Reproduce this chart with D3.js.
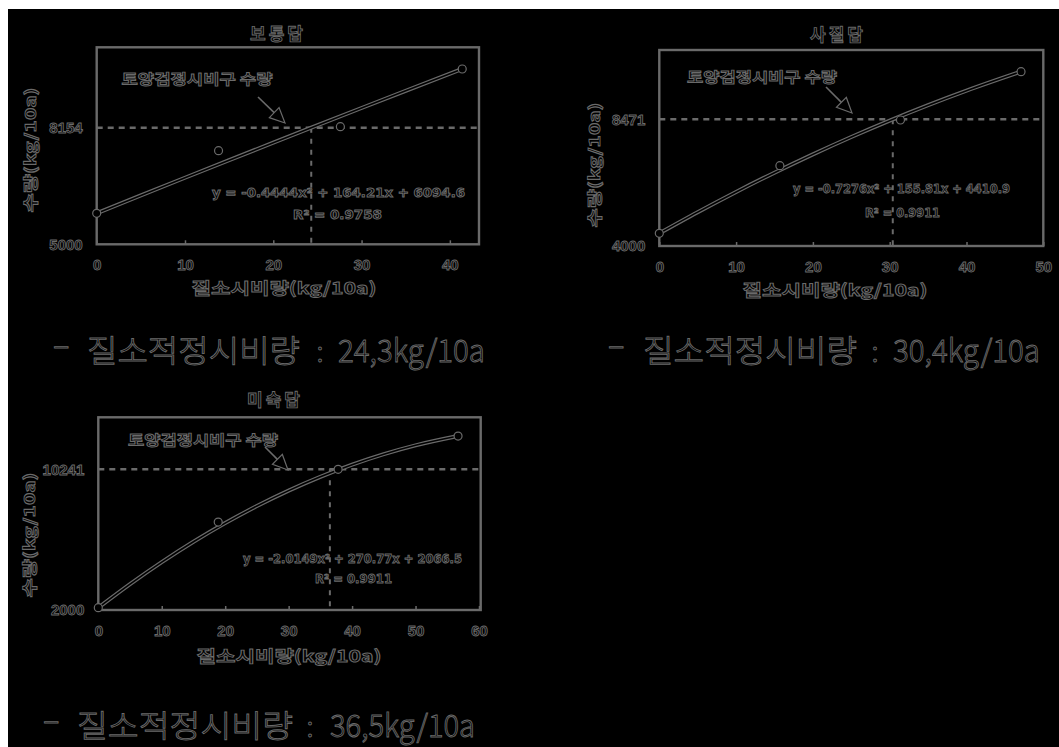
<!DOCTYPE html>
<html><head><meta charset="utf-8">
<script src="https://cdn.jsdelivr.net/npm/d3@7"></script>
<style>html,body{margin:0;padding:0;background:#fff;} svg{display:block}</style>
</head><body>
<svg id="c" width="1059" height="747"></svg>
<script>
// ---------- data ----------
const titles = ["보통답", "사질답", "미숙답"];
const annotationText = "토양검정시비구 수량";
const yAxisTitle = "수량(kg/10a)";
const xAxisTitle = "질소시비량(kg/10a)";

const xTicks1 = [0, 10, 20, 30, 40];
const xTicks2 = [0, 10, 20, 30, 40, 50];
const xTicks3 = [0, 10, 20, 30, 40, 50, 60];
const yTicks1 = [5000, 8154];
const yTicks2 = [4000, 8471];
const yTicks3 = [2000, 10241];

const optN = [24.3, 30.4, 36.5];
const optYield = [8154, 8471, 10241];

const pointN1 = [0, 13.8, 27.6, 41.4];
const pointYield1 = [5839, 7532, 8181, 9742];
const pointN2 = [0, 15.7, 31.4, 47.1];
const pointYield2 = [4448, 6834, 8446, 10151];
const pointN3 = [0, 18.9, 37.8, 56.7];
const pointYield3 = [2135, 7150, 10241, 12191];

const curveN1 = [0, 5, 10, 15, 20, 24.3, 30, 35, 41.4];
const curveYield1 = [5839, 6321, 6800, 7276, 7749, 8154, 8687, 9151, 9742];
const curveN2 = [0, 5, 10, 15, 20, 25, 30, 35, 40, 47.1];
const curveYield2 = [4448, 5194, 5908, 6587, 7233, 7846, 8424, 8969, 9480, 10151];
const curveN3 = [0, 5, 10, 15, 20, 25, 30, 35, 40, 45, 50, 56.7];
const curveYield3 = [2135, 3517, 4804, 5995, 7090, 8090, 8993, 9800, 10511, 11126, 11646, 12191];

const equations = [
  "y = -0.4444x\u00B2 + 164.21x + 6094.6",
  "y = -0.7276x\u00B2 + 155.81x + 4410.9",
  "y = -2.0149x\u00B2 + 270.77x + 2066.5"
];
const r2Labels = ["R\u00B2 = 0.9758", "R\u00B2 = 0.9911", "R\u00B2 = 0.9911"];
const captionLabel = "질소적정시비량";
const captionValues = ["24,3kg/10a", "30,4kg/10a", "36,5kg/10a"];

// ---------- layout ----------
const layout = [
  {x0:96.7, x1:479, y0:47.3, y1:244.3, xMax:43.3, yMin:5000, yMax:10329,
   title:[278,40], ann:[197,84,151], arrow:[258,97,285,123],
   eq:[338.5,197,253], r2:[337.5,219,89], yl:[31,150,125], xl:[284,294,185],
   cap:{y:362, dash:53, kor:87, korLen:213, colon:320, num:338, numLen:147}},
  {x0:659.3, x1:1043.3, y0:50, y1:246, xMax:50, yMin:4000, yMax:10916,
   title:[838,41], ann:[762,82,150], arrow:[826,87,852,113],
   eq:[901.5,193,217], r2:[902.5,217,75], yl:[595,165,125], xl:[835,296,185],
   cap:{y:362, dash:608, kor:643, korLen:214, colon:875, num:893, numLen:147}},
  {x0:98.3, x1:480.7, y0:417.3, y1:610, xMax:60.27, yMin:2000, yMax:13288,
   title:[275,406], ann:[203,445,150], arrow:[265,447,288,470],
   eq:[352.5,563,219], r2:[353.5,583,77], yl:[30,535,125], xl:[289,662,185],
   cap:{y:737, dash:43, kor:77, korLen:216, colon:310, num:330, numLen:145}}
];

const xTicksAll = [xTicks1, xTicks2, xTicks3];
const yTicksAll = [yTicks1, yTicks2, yTicks3];
const pointsAll = [[pointN1, pointYield1], [pointN2, pointYield2], [pointN3, pointYield3]];
const curvesAll = [[curveN1, curveYield1], [curveN2, curveYield2], [curveN3, curveYield3]];

const GRAY = "#6a6a6a";
const svg = d3.select("#c");
svg.append("rect").attr("width",1059).attr("height",747).attr("fill","#fff");
svg.append("rect").attr("x",8).attr("y",9).attr("width",1051).attr("height",738).attr("fill","#000");

function outlineText(sel, size, weight, family){
  return sel.attr("font-size", size).attr("font-weight", weight)
    .attr("font-family", family || "'Noto Sans CJK KR', sans-serif")
    .attr("fill", "#000").attr("stroke", GRAY).attr("stroke-width", 0.9)
    .attr("lengthAdjust", "spacingAndGlyphs");
}

layout.forEach((L, i) => {
  const g = svg.append("g");
  const x = d3.scaleLinear().domain([0, L.xMax]).range([L.x0, L.x1]);
  const y = d3.scaleLinear().domain([L.yMin, L.yMax]).range([L.y1, L.y0]);

  g.append("rect").attr("x", L.x0).attr("y", L.y0)
    .attr("width", L.x1 - L.x0).attr("height", L.y1 - L.y0)
    .attr("fill", "none").attr("stroke", GRAY).attr("stroke-width", 2.4);

  const xa = g.append("g").attr("transform", `translate(0,${L.y1})`)
    .call(d3.axisBottom(x).tickValues(xTicksAll[i]).tickSize(-4).tickPadding(15).tickFormat(d3.format("d")));
  xa.select(".domain").remove();
  xa.selectAll("line").attr("stroke", GRAY).attr("stroke-width", 1.5);
  xa.selectAll("text").call(s => outlineText(s, 15, "bold", "'Liberation Sans', sans-serif"));

  const ya = g.append("g").attr("transform", `translate(${L.x0},0)`)
    .call(d3.axisLeft(y).tickValues(yTicksAll[i]).tickSize(0).tickPadding(14).tickFormat(d3.format("d")));
  ya.select(".domain").remove();
  ya.selectAll("text").call(s => outlineText(s, 15, "bold", "'Liberation Sans', sans-serif"));

  g.append("line").attr("x1", L.x0).attr("x2", L.x1)
    .attr("y1", y(optYield[i])).attr("y2", y(optYield[i]))
    .attr("stroke", GRAY).attr("stroke-width", 2.6).attr("stroke-dasharray", "6,5");
  g.append("line").attr("x1", x(optN[i])).attr("x2", x(optN[i]))
    .attr("y1", y(optYield[i])).attr("y2", L.y1)
    .attr("stroke", GRAY).attr("stroke-width", 2).attr("stroke-dasharray", "5,6");

  const cd = curvesAll[i][0].map((n, k) => [n, curvesAll[i][1][k]]);
  const line = d3.line().x(d => x(d[0])).y(d => y(d[1])).curve(d3.curveMonotoneX);
  g.append("path").attr("d", line(cd)).attr("fill", "none").attr("stroke", GRAY).attr("stroke-width", 4);
  g.append("path").attr("d", line(cd)).attr("fill", "none").attr("stroke", "#000").attr("stroke-width", 1.6);

  const pd = pointsAll[i][0].map((n, k) => [n, pointsAll[i][1][k]]);
  g.selectAll("circle.p").data(pd).enter().append("circle")
    .attr("cx", d => x(d[0])).attr("cy", d => y(d[1])).attr("r", 4)
    .attr("fill", "#000").attr("stroke", GRAY).attr("stroke-width", 1.2);

  outlineText(g.append("text").attr("x", L.title[0]).attr("y", L.title[1])
    .attr("text-anchor", "middle").attr("letter-spacing", 3).text(titles[i]), 17, "bold");

  outlineText(g.append("text").attr("x", L.ann[0]).attr("y", L.ann[1])
    .attr("text-anchor", "middle").attr("textLength", L.ann[2]).text(annotationText), 14, "bold");
  const [ax0, ay0, ax1, ay1] = L.arrow;
  const dx = ax1 - ax0, dy = ay1 - ay0, len = Math.hypot(dx, dy);
  const ux = dx / len, uy = dy / len, hl = 15, hw = 7;
  const bx = ax1 - ux * hl, by = ay1 - uy * hl;
  g.append("line").attr("x1", ax0).attr("y1", ay0).attr("x2", bx).attr("y2", by)
    .attr("stroke", GRAY).attr("stroke-width", 1.6);
  g.append("path").attr("d", `M${ax1},${ay1}L${bx - uy * hw},${by + ux * hw}L${bx + uy * hw},${by - ux * hw}Z`)
    .attr("fill", "#000").attr("stroke", GRAY).attr("stroke-width", 1.2);

  outlineText(g.append("text").attr("x", L.eq[0]).attr("y", L.eq[1])
    .attr("text-anchor", "middle").attr("textLength", L.eq[2]).text(equations[i]), 12, "bold", "'DejaVu Sans', sans-serif");
  outlineText(g.append("text").attr("x", L.r2[0]).attr("y", L.r2[1])
    .attr("text-anchor", "middle").attr("textLength", L.r2[2]).text(r2Labels[i]), 12, "bold", "'DejaVu Sans', sans-serif");

  outlineText(g.append("text").attr("transform", `translate(${L.yl[0]},${L.yl[1]}) rotate(-90)`)
    .attr("text-anchor", "middle").attr("dy", "0.35em").attr("textLength", L.yl[2]).text(yAxisTitle), 15, "bold");
  outlineText(g.append("text").attr("x", L.xl[0]).attr("y", L.xl[1])
    .attr("text-anchor", "middle").attr("textLength", L.xl[2]).text(xAxisTitle), 16, "bold");

  const C = L.cap;
  outlineText(g.append("text").attr("x", C.dash).attr("y", C.y - 6).text("\u2013"), 31, 300);
  outlineText(g.append("text").attr("x", C.kor).attr("y", C.y).attr("textLength", C.korLen).text(captionLabel), 31, 300);
  outlineText(g.append("text").attr("x", C.colon).attr("y", C.y).attr("text-anchor", "middle").text(":"), 28, 300);
  outlineText(g.append("text").attr("x", C.num).attr("y", C.y).attr("textLength", C.numLen).text(captionValues[i]), 31, 300);
});
</script>
</body></html>
